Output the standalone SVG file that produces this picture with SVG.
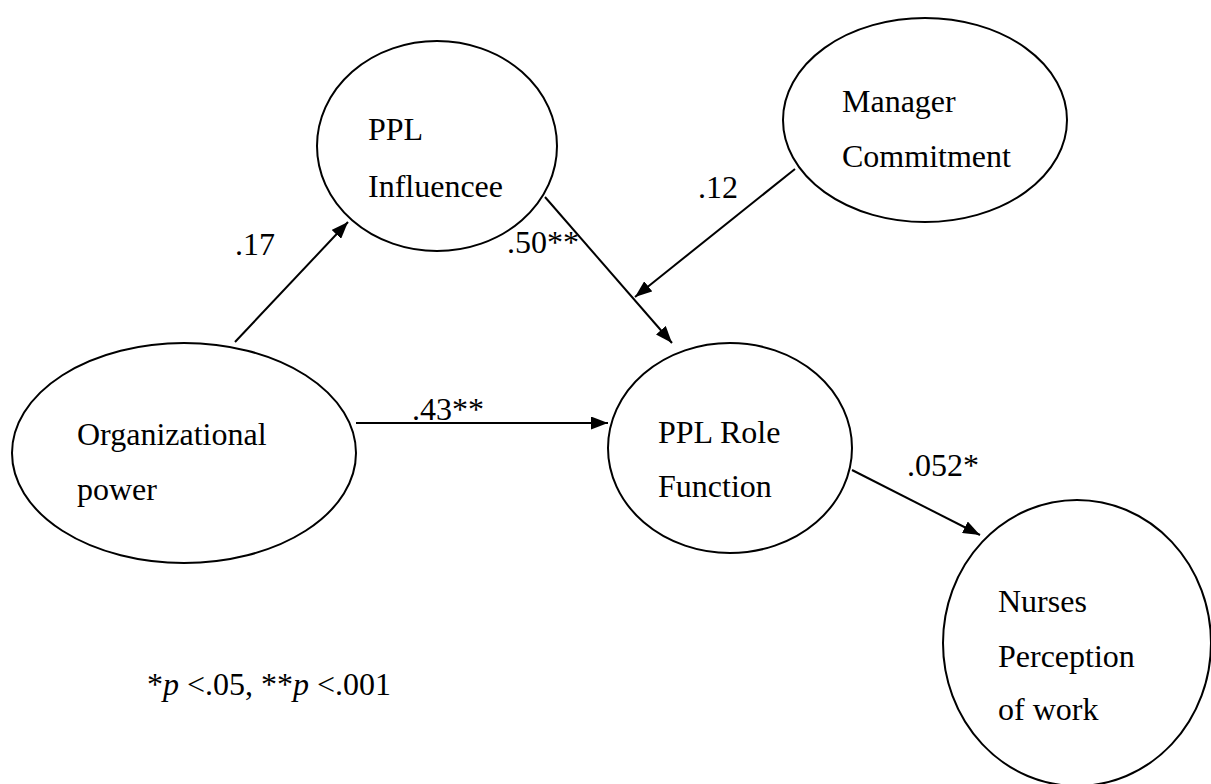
<svg xmlns="http://www.w3.org/2000/svg" width="1211" height="784" viewBox="0 0 1211 784">
<style>
.n{fill:#fff;stroke:#000;stroke-width:2}
.t{font-family:"Liberation Serif","Times New Roman",serif;font-size:32px;fill:#000}
.c{stroke:#000;stroke-width:2;fill:none;marker-end:url(#ah)}
</style>
<defs>
<marker id="ah" viewBox="0 0 17 13" refX="17" refY="6.5" markerWidth="17" markerHeight="13" markerUnits="userSpaceOnUse" orient="auto">
<path d="M0,0 L17,6.5 L0,13 Z" fill="#000"/>
</marker>
</defs>
<rect width="1211" height="784" fill="#fff"/>
<g id="influencee"><ellipse class="n" cx="437" cy="146" rx="120" ry="105"/><text class="t" x="368" y="140">PPL</text><text class="t" x="368" y="197">Influencee</text></g>
<g id="manager"><ellipse class="n" cx="925" cy="120" rx="142" ry="102"/><text class="t" x="842" y="112">Manager</text><text class="t" x="842" y="167">Commitment</text></g>
<g id="orgpower"><ellipse class="n" cx="184" cy="453" rx="172" ry="110"/><text class="t" x="77" y="445">Organizational</text><text class="t" x="77" y="500">power</text></g>
<g id="role"><ellipse class="n" cx="730" cy="448" rx="122" ry="105"/><text class="t" x="658" y="443">PPL Role</text><text class="t" x="658" y="497">Function</text></g>
<g id="nurses"><ellipse class="n" cx="1077" cy="643" rx="134" ry="143"/><text class="t" x="998" y="612">Nurses</text><text class="t" x="998" y="667">Perception</text><text class="t" x="998" y="720">of work</text></g>
<g id="connectors">
<line class="c" x1="235" y1="342" x2="348" y2="222"/>
<line class="c" x1="545" y1="197" x2="672" y2="343"/>
<line class="c" x1="795" y1="169" x2="635" y2="297"/>
<line class="c" x1="356" y1="423" x2="608" y2="423"/>
<line class="c" x1="852" y1="470" x2="980" y2="535"/>
<text class="t" x="235" y="255">.17</text>
<text class="t" x="507" y="253">.50**</text>
<text class="t" x="698" y="198">.12</text>
<text class="t" x="412" y="420">.43**</text>
<text class="t" x="907" y="476">.052*</text>
</g>
<text class="t" x="147" y="695">*<tspan font-style="italic">p</tspan> &lt;.05, **<tspan font-style="italic">p</tspan> &lt;.001</text>
</svg>
